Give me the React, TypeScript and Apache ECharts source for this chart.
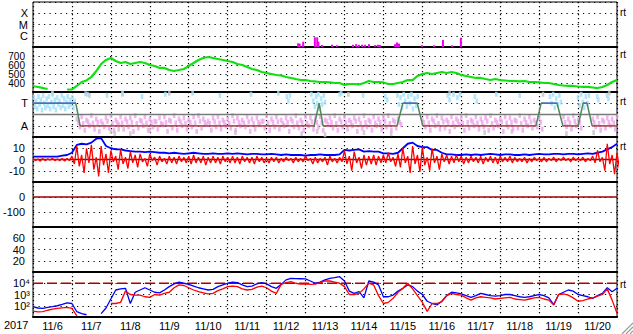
import React, { useEffect, useRef } from 'react';
import * as echarts from 'echarts';

const STEP = 0.125; // 3-hour samples, days since 11/6 00:00
const dayLabels = ['11/6','11/7','11/8','11/9','11/10','11/11','11/12','11/13','11/14','11/15','11/16','11/17','11/18','11/19','11/20'];

// X-ray events (day, level above C-1 decade)
const xrayDay = [6.81,6.85,6.94,7.24,7.30,7.33,7.42,7.68,7.81,8.22,8.30,8.37,8.45,8.53,8.63,8.79,8.86,8.91,9.30,9.35,9.40,9.99,10.30,10.53,10.76,10.99];
const xrayLevel = [0.33,0.3,0.47,0.86,0.86,0.47,0.18,0.2,0.15,0.2,0.25,0.2,0.2,0.2,0.25,0.18,0.2,0.18,0.25,0.4,0.3,0.16,0.15,0.62,0.15,0.83];

// Solar wind speed km/s
const speed = [367,356,345,333,null,null,null,328,328,367,
411,428,467,533,611,656,678,644,622,633,
611,622,633,622,600,589,567,567,544,533,
544,556,589,622,656,678,689,678,667,656,
644,633,611,600,578,556,544,522,511,500,
489,483,467,456,444,433,433,422,417,411,
411,406,400,400,378,389,389,383,400,422,
411,411,406,389,389,400,411,433,433,478,
500,511,500,511,522,511,522,511,489,478,
467,456,456,444,433,444,433,428,422,422,
417,422,411,411,406,400,400,389,378,372,
367,367,361,356,356,350,344,356,378,411,433];

// T/A level line
const levelDay = [0,1.10,1.21,7.22,7.35,7.45,9.35,9.50,9.87,10.01,12.92,13.05,13.46,13.61,14.0,14.13,14.23,14.36,15];
const levelVal = [3,3,1,1,3,1,1,3,3,1,1,3,3,1,1,3,3,1,1];

const pinkHi = [null,null,null,null,null,null,null,null,null,1.6,
1.8,1.5,1.9,1.6,1.4,1.7,1.9,1.5,1.8,1.6,
1.7,1.9,1.5,1.8,1.6,1.4,1.7,1.8,1.5,1.9,
1.6,1.7,1.5,1.8,1.9,1.6,1.4,1.7,1.8,1.5,
1.6,1.9,1.7,1.5,1.8,1.6,1.7,1.4,1.9,1.6,
1.8,1.5,1.7,1.6,1.9,1.5,1.8,1.7,1.6,1.8,
1.5,1.7,1.9,1.6,1.8,1.5,1.7,1.6,1.9,1.5,
1.8,1.6,1.7,1.9,1.5,1.6,null,null,null,null,
1.5,1.8,1.6,1.9,1.7,1.5,1.8,1.6,1.7,1.9,
1.5,1.8,1.6,1.7,1.9,1.5,1.6,1.8,1.7,1.5,
1.9,1.6,1.8,1.5,1.7,null,null,null,null,1.8,
1.6,1.9,1.5,null,null,1.6,1.8,1.5,1.7,1.6,1.8];
const pinkMid = [null,null,null,null,null,null,null,null,null,1.3,
1.2,1.35,1.25,1.3,1.15,1.4,1.2,1.3,1.25,1.35,
1.3,1.2,1.4,1.25,1.3,1.35,1.2,1.3,1.4,1.25,
1.35,1.2,1.3,1.25,1.4,1.3,1.2,1.35,1.25,1.3,
1.2,1.4,1.3,1.25,1.35,1.2,1.3,1.4,1.25,1.3,
1.35,1.2,1.3,1.4,1.25,1.3,1.2,1.35,1.3,1.25,
1.4,1.3,1.2,1.35,1.25,1.3,1.4,1.2,1.3,1.35,
1.25,1.3,1.4,1.2,1.35,1.3,null,null,null,null,
1.3,1.25,1.4,1.2,1.35,1.3,1.25,1.4,1.2,1.3,
1.35,1.25,1.3,1.4,1.2,1.3,1.35,1.25,1.3,1.4,
1.2,1.3,1.35,1.25,1.3,null,null,null,null,1.3,
1.25,1.4,1.3,null,null,1.3,1.2,1.35,1.3,1.25,1.3];
const pinkLo = [null,null,null,null,null,null,null,null,null,0.9,
0.6,1.0,0.7,0.5,0.9,0.8,0.6,1.1,0.7,0.9,
0.5,0.8,1.0,0.6,0.9,0.7,1.1,0.5,0.8,0.6,
1.0,0.7,0.9,0.5,0.8,1.1,0.6,0.9,0.7,1.0,
0.8,0.6,1.0,0.9,0.5,0.7,1.1,0.8,0.6,0.9,
0.7,1.0,0.5,0.9,0.8,0.6,1.0,0.7,0.9,0.6,
1.1,0.8,0.6,0.9,0.7,1.0,0.5,0.8,0.9,0.6,
1.0,0.7,0.9,0.6,0.8,1.1,null,null,null,null,
0.9,0.6,1.0,0.7,0.8,0.5,0.9,1.1,0.6,0.8,
1.0,0.7,0.9,0.6,0.8,1.0,0.5,0.9,0.7,0.8,
0.6,1.0,0.8,0.9,0.7,null,null,null,null,0.9,
0.7,1.0,0.8,null,null,0.9,0.6,0.8,1.0,0.7,0.9];

const cyanPts = [[0.02,3.5],[0.05,2.7],[0.08,3.2],[0.11,2.5],[0.14,3.6],[0.17,2.9],[0.2,3.3],[0.23,2.4],[0.26,3.7],[0.29,3.0],[0.32,2.6],[0.35,3.4],[0.38,2.8],[0.41,3.6],[0.44,2.5],[0.47,3.1],[0.5,3.8],[0.53,2.7],[0.56,3.3],[0.59,2.4],[0.62,3.5],[0.65,2.9],[0.68,3.2],[0.71,2.6],[0.74,3.7],[0.77,2.8],[0.8,3.4],[0.83,2.5],[0.86,3.1],[0.89,3.6],[0.92,2.7],[0.95,3.3],[0.98,2.9],[1.01,3.5],[1.04,2.6],[1.07,3.2],
[1.4,3.8],[1.9,3.7],[2.3,3.9],[2.8,3.6],[3.4,3.8],[4.1,3.9],[4.8,3.7],[5.6,3.8],[6.3,3.9],[6.52,3.6],[6.56,3.2],[6.6,3.7],
[7.15,3.8],[7.2,3.2],[7.24,2.7],[7.27,3.6],[7.3,3.0],[7.33,3.8],[7.36,2.5],[7.4,3.4],[7.43,2.9],[7.47,3.7],[7.5,3.1],
[7.88,3.8],[7.92,3.9],[8.48,3.7],[9.05,3.6],[9.1,3.3],
[9.36,3.7],[9.4,2.9],[9.44,3.5],[9.48,2.6],[9.52,3.8],[9.56,3.2],[9.6,2.7],[9.64,3.6],[9.68,3.0],[9.72,3.8],[9.76,2.5],[9.8,3.4],[9.84,2.8],[9.88,3.6],
[10.65,3.7],[10.7,3.3],[10.8,3.8],[10.9,3.5],[10.97,3.8],[11.35,3.6],[11.4,3.2],[11.9,3.8],[12.5,3.7],
[13.28,3.6],[13.32,3.0],[13.36,3.8],[13.4,2.6],[13.44,3.4],[13.48,2.9],[13.52,3.7],[13.56,3.1],
[14.0,3.5],[14.04,2.8],[14.08,3.8],[14.12,3.1],[14.16,2.6],[14.2,3.6],[14.24,3.0],[14.28,3.7],[14.49,3.6],[14.52,3.3],[14.74,3.7],[14.78,3.4]];
const grayPts = [[0.5,3.9],[1.35,3.85],[1.45,3.7],[2.0,0.5],[2.1,0.3],[2.2,0.7],[2.3,3.8],[2.5,0.3],[3.0,0.6],[3.5,3.9],[5.2,0.4],[6.9,0.3],[7.3,0.5],[7.5,0.2],[8.1,3.8],[8.5,0.4],[9.2,0.3],[10.7,3.9],[11.6,0.4],[12.3,0.5],[13.1,3.8],[13.7,0.3],[14.4,0.4],[14.8,3.9]];

// IMF Bt (nT)
const bt = [2.5,2.5,2.5,2.5,2.5,2.5,3.5,4,6,13,
14,13.5,15,18.5,19,12,10,9,9,8,
7.5,7,7,6.5,7,6.5,6,6,5.5,6,
5.5,5,5.5,6,5.5,5,5,5.5,5,5,
5.5,5,5.5,5,4.5,5,5,4.5,4.5,5,
4.5,4,4.5,4,4,4,3.5,4,4,4.5,
4,4,4,4.5,8.5,8,8.5,9,7,7.5,
7,7,5.5,5.5,5,6,10,14,15,12,
11,11,8.5,8.5,6,4.5,4.5,4,4,4.5,
4,4.5,4,4.5,5,4.5,4,4.5,4.5,4,
4,4.5,4,4.5,5,4.5,4.5,5,5,4.5,
5,5,4.5,5,5.5,5,6,7,9,11,14];
// IMF Bz envelope per 3 h (high / low)
const bzHi = [1,0.5,1,0.5,1,0.5,1,1,3,12,
4,10,13,2,12,5,8,3,9,2,
7,4,5,1,5,2,3,1,3,2,
3,2,3,4,2,3,2,3,2,3,
2,3,2,3,2,2,3,2,1,2,
2,1,2,1,2,1,3,1,2,1,
2,3,1,2,8,3,7,2,4,3,
4,3,4,6,2,5,10,3,12,4,
11,2,10,3,5,4,3,4,3,2,
3,2,3,2,3,2,3,2,3,2,
1,2,1,2,1,2,1,2,1,2,
1,2,1,2,1,3,8,2,14,4,6];
const bzLo = [-1,-1.5,-1,-0.5,-1,-1,-1.5,-1,-4,-6,
-12,-3,-9,-15,-5,-12,-2,-9,-4,-8,
-3,-7,-2,-6,-1,-5,-2,-4,-3,-4,
-2,-3,-4,-3,-3,-5,-3,-3,-4,-2,
-3,-3,-4,-2,-3,-4,-2,-3,-3,-2,
-3,-2,-1,-3,-2,-2,-1,-4,-3,-2,
-5,-2,-3,-2,-4,-10,-3,-8,-5,-4,
-5,-3,-3,-2,-6,-7,-3,-12,-4,-11,
-5,-10,-3,-9,-2,-4,-3,-2,-4,-3,
-2,-3,-4,-2,-3,-4,-2,-2,-3,-2,
-2,-3,-2,-1,-2,-2,-1,-2,-1,-1,
-2,-1,-1,-2,-1,-3,-2,-10,-4,-13,-8];

// Particle flux, log10
const fluxBlueLog = [1.92,1.8,1.77,1.85,1.92,2.0,2.12,2.25,2.2,1.47,
1.3,1.2,null,null,1.3,1.8,2.6,3.4,3.5,3.55,
2.2,3.2,3.4,3.6,3.4,3.2,3.15,3.4,3.7,3.95,
4.1,4.0,3.9,3.75,3.6,3.5,3.4,3.45,3.7,3.85,
4.0,4.1,4.05,3.85,3.7,3.75,3.95,4.05,3.95,3.7,
3.55,3.9,4.3,4.44,4.42,4.4,4.38,4.2,4.0,4.1,
4.3,4.44,4.5,4.58,4.2,3.3,3.1,3.25,2.7,4.2,
4.1,3.84,2.8,2.8,2.95,3.3,3.55,3.85,3.7,3.3,
3.0,2.4,2.2,2.07,2.4,2.9,3.2,3.15,3.05,2.9,
2.75,2.9,3.1,3.0,2.9,2.85,2.9,3.0,3.0,2.9,
2.8,2.75,2.8,2.9,3.0,2.9,2.7,2.1,3.0,3.2,
3.4,3.3,3.0,2.9,2.8,2.65,2.9,3.1,3.6,3.25,3.55];
const fluxRedLog = [1.53,1.45,1.47,1.6,1.7,1.77,1.82,1.86,1.77,1.1,
null,null,null,null,null,null,2.2,2.2,2.3,3.3,
3.0,2.95,2.95,2.8,2.75,3.0,2.95,3.1,3.2,3.6,
3.85,3.8,3.6,3.4,3.25,3.15,3.05,3.1,3.35,3.5,
3.7,3.75,3.7,3.5,3.4,3.45,3.65,3.75,3.6,3.3,
3.1,3.9,4.05,4.14,4.0,3.93,3.95,3.9,3.93,4.05,
4.2,4.2,4.1,4.0,3.7,3.0,3.0,3.1,3.5,4.0,
3.85,2.9,2.2,2.3,2.66,3.2,3.55,4.0,3.5,2.9,
2.3,1.5,2.2,2.2,2.36,2.9,3.1,3.0,2.95,2.7,
2.5,2.7,2.8,2.75,2.7,2.6,2.65,2.7,2.75,2.6,
2.55,2.5,2.6,2.7,2.75,2.6,2.5,2.07,3.0,3.05,
2.95,2.7,2.4,2.45,2.6,2.7,2.85,3.0,3.5,2.5,1.33];

const FONT = 'Liberation Sans, Arial, Helvetica, sans-serif';
const GRID_TOP = 2;
const PANEL_H = 45;

const series1 = (arr: (number | null)[], conv?: (v: number) => number) =>
  arr.map((v, i) => [i * STEP, v == null ? '-' : conv ? conv(v) : v]);
const scatterOf = (arr: (number | null)[], off: number) =>
  arr.map((v, i) => (v == null ? null : [i * STEP + off, v])).filter(Boolean);

function buildOption() {
  const grids = [];
  const xAxes: any[] = [];
  const yAxes: any[] = [];
  for (let k = 0; k < 7; k++) {
    grids.push({ left: 33, right: 16, top: GRID_TOP + PANEL_H * k, height: PANEL_H, show: true, borderColor: '#000', borderWidth: 1, backgroundColor: 'transparent' });
    xAxes.push({
      type: 'value', gridIndex: k, min: 0, max: 15, interval: 1,
      axisLabel: { show: false }, axisTick: { show: false },
      axisLine: { show: true, onZero: false, lineStyle: { color: '#000', width: 2 } },
      splitLine: { show: true, lineStyle: { color: '#000', width: 1.2, type: [1.2, 2.8] } },
    });
  }
  xAxes.push({
    type: 'category', gridIndex: 6, data: dayLabels, boundaryGap: true, position: 'bottom',
    axisLine: { show: false }, axisTick: { show: false }, splitLine: { show: false },
    axisLabel: { color: '#000', fontSize: 11, fontFamily: FONT, margin: 3, interval: 0 },
  });
  const ySplit = { show: true, lineStyle: { color: '#000', width: 1.2, type: [1.2, 4.3] } };
  const yLabel = (fmt: (v: number) => string, margin = 8, fontSize = 11) => ({ color: '#000', fontSize, lineHeight: fontSize, fontFamily: FONT, margin, formatter: fmt });
  const base = { axisLine: { show: false }, axisTick: { show: false }, splitLine: ySplit };
  yAxes.push({ ...base, type: 'value', gridIndex: 0, min: 0, max: 4, interval: 1, axisLabel: yLabel((v) => ({ 1: 'C', 2: 'M', 3: 'X' } as any)[v] || '', 5) });
  yAxes.push({ ...base, type: 'value', gridIndex: 1, min: 300, max: 800, interval: 100, axisLabel: yLabel((v) => (v >= 400 && v <= 700 ? String(v) : ''), 8, 10) });
  yAxes.push({ ...base, type: 'value', gridIndex: 2, min: 0, max: 4, interval: 1, axisLabel: yLabel((v) => ({ 1: 'A', 3: 'T' } as any)[v] || '', 5) });
  yAxes.push({ ...base, type: 'value', gridIndex: 3, min: -20, max: 20, interval: 10, axisLabel: yLabel((v) => (Math.abs(v) <= 10 ? String(v) : '')) });
  yAxes.push({ ...base, type: 'value', gridIndex: 4, min: -200, max: 100, interval: 100, axisLabel: yLabel((v) => (v === 0 || v === -100 ? String(v) : '')) });
  yAxes.push({ ...base, type: 'value', gridIndex: 5, min: 0, max: 80, interval: 20, axisLabel: yLabel((v) => (v >= 20 && v <= 60 ? String(v) : '')) });
  yAxes.push({ ...base, type: 'log', logBase: 10, gridIndex: 6, min: 10, max: 100000, axisLabel: yLabel((v) => {
    const e = Math.round(Math.log10(v));
    return e === 2 ? '10²' : e === 3 ? '10³' : e === 4 ? '10⁴' : '';
  }, 3) });

  const line = (xi: number, data: any[], color: string, width = 1.5, extra: any = {}) => ({
    type: 'line', xAxisIndex: xi, yAxisIndex: xi, data, showSymbol: false, symbol: 'none', silent: true,
    lineStyle: { color, width, ...(extra.lineStyle || {}) }, connectNulls: false, z: extra.z || 2,
  });
  const scat = (data: any[], color: string, size: any = [2.6, 5]) => ({
    type: 'scatter', xAxisIndex: 2, yAxisIndex: 2, data, symbol: 'rect', symbolSize: size, silent: true,
    itemStyle: { color }, z: 1,
  });

  const levelPts = levelDay.map((d, i) => [d, levelVal[i]]);
  const levelBlue = levelPts.map((p, i) => [p[0], levelVal[i] === 3 ? 3 : '-']);
  const levelRed = levelPts.map((p, i) => [p[0], levelVal[i] === 1 ? 1 : '-']);

  const bzZig: any[] = [];
  bzHi.forEach((h, i) => { bzZig.push([i * STEP, h]); bzZig.push([i * STEP + STEP / 2, bzLo[i]]); });

  const series: any[] = [
    { type: 'bar', xAxisIndex: 0, yAxisIndex: 0, data: xrayDay.map((d, i) => [d, xrayLevel[i]]), barWidth: 2, itemStyle: { color: '#f000f0' }, silent: true },
    line(1, series1(speed), '#10e010', 2.2),
    scat(grayPts, '#c4c4c4'),
    scat(cyanPts, '#9fe0fa'),
    scat(scatterOf(pinkHi, 0), '#eea2ec'),
    scat(scatterOf(pinkMid, 0.04), '#eea2ec'),
    scat(scatterOf(pinkLo, 0.08), '#eea2ec'),
    line(2, [[0, 2], [15, 2]], '#7a7a7a', 1.5, { z: 3 }),
    line(2, levelPts, '#4f8a5a', 1.5, { z: 3 }),
    line(2, levelBlue, '#4a66e8', 1.5, { z: 4 }),
    line(2, levelRed, '#e23a5a', 1.5, { z: 4 }),
    line(3, [[0, 0], [15, 0]], '#a00000', 1.5),
    line(3, series1(bt), '#0000ff', 1.8, { z: 3 }),
    line(3, bzZig, '#ff0000', 1.3, { z: 4 }),
    line(4, [[0, 0], [15, 0]], '#a00000', 1.5),
    line(6, [[0, 10000], [15, 10000]], '#b00000', 1.5, { lineStyle: { type: [10, 4] } }),
    line(6, series1(fluxBlueLog, (v) => Math.pow(10, v)), '#0000ff', 1.3, { z: 3 }),
    line(6, series1(fluxRedLog, (v) => Math.pow(10, v)), '#ff0000', 1.3, { z: 4 }),
  ];
  series.push({ type: 'line', xAxisIndex: 5, yAxisIndex: 5, data: [], showSymbol: false });

  const rtY = [12, 54.5, 101, 146.5, 284.5];
  const graphic: any[] = [
    { type: 'text', left: 4, top: 319, style: { text: '2017', fontSize: 11, fontFamily: FONT, fill: '#000' } },
    ...rtY.map((y) => ({ type: 'text', x: 620, y, style: { text: 'rt', fontSize: 10, fontFamily: FONT, fill: '#000', verticalAlign: 'middle' } })),
    ...[0, 4, 8].map((o) => ({ type: 'line', shape: { x1: 622 + o, y1: 334, x2: 633, y2: 323 + o }, style: { stroke: '#9a9a9a', lineWidth: 1.2 } })),
  ];

  return { animation: false, backgroundColor: '#fff', grid: grids, xAxis: xAxes, yAxis: yAxes, series, graphic };
}

export default function App() {
  const ref = useRef<HTMLDivElement>(null);
  useEffect(() => {
    const chart = echarts.init(ref.current!, null, { renderer: 'svg' });
    chart.setOption(buildOption() as any);
    return () => chart.dispose();
  }, []);
  return <div ref={ref} style={{ position: 'fixed', left: 0, top: 0, width: 633, height: 334, background: '#fff' }} />;
}
